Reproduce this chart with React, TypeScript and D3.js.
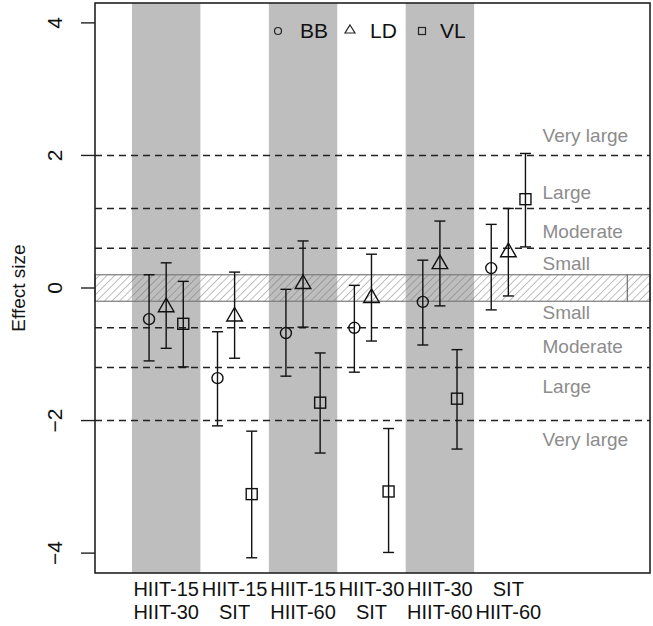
import React, { useEffect, useRef } from "react";
import * as d3 from "d3";

// comparison labels (two lines under each group)
const labelTop = ["HIIT-15", "HIIT-15", "HIIT-15", "HIIT-30", "HIIT-30", "SIT"];
const labelBottom = ["HIIT-30", "SIT", "HIIT-60", "SIT", "HIIT-60", "HIIT-60"];

// effect sizes and 95% limits per outcome
const bbEst = [-0.47, -1.36, -0.68, -0.6, -0.21, 0.3];
const bbLow = [-1.1, -2.08, -1.33, -1.27, -0.86, -0.33];
const bbHigh = [0.2, -0.66, -0.02, 0.04, 0.42, 0.96];

const ldEst = [-0.29, -0.43, 0.06, -0.15, 0.36, 0.54];
const ldLow = [-0.91, -1.06, -0.59, -0.8, -0.27, -0.12];
const ldHigh = [0.38, 0.24, 0.71, 0.51, 1.01, 1.2];

const vlEst = [-0.54, -3.11, -1.73, -3.07, -1.67, 1.34];
const vlLow = [-1.19, -4.07, -2.49, -3.99, -2.43, 0.62];
const vlHigh = [0.1, -2.16, -0.98, -2.12, -0.93, 2.03];

const yTicks = [4, 2, 0, -2, -4];
const thresholds = [2, 1.2, 0.6, -0.6, -1.2, -2];
const trivial = [-0.2, 0.2];
const zoneNames = ["Very large", "Large", "Moderate", "Small", "Small", "Moderate", "Large", "Very large"];
const zoneAt = [2.3, 1.45, 0.85, 0.37, -0.37, -0.88, -1.49, -2.29];

const FONT = "'Liberation Sans', Arial, sans-serif";

const App = () => {
  const svgRef = useRef<SVGSVGElement>(null);

  useEffect(() => {
    const W = 653;
    const H = 626;
    const box = { left: 95, right: 650, top: 3, bottom: 573 };

    const svg = d3.select(svgRef.current).attr("width", W).attr("height", H);
    svg.selectAll("*").remove();

    const x = d3.scaleLinear().domain([-0.04, 8.07]).range([box.left, box.right]);
    const y = d3.scaleLinear().domain([-4.3, 4.3]).range([box.bottom, box.top]);
    const off = 0.25;

    // hatch pattern
    const defs = svg.append("defs");
    const pat = defs
      .append("pattern")
      .attr("id", "hatch")
      .attr("patternUnits", "userSpaceOnUse")
      .attr("width", 5.4)
      .attr("height", 5.4)
      .attr("patternTransform", "rotate(45)");
    pat
      .append("line")
      .attr("x1", 0)
      .attr("y1", 0)
      .attr("x2", 0)
      .attr("y2", 5.4)
      .attr("stroke", "#707070")
      .attr("stroke-width", 0.9);

    // gray bands behind odd groups
    const idx = d3.range(labelTop.length);
    svg
      .append("g")
      .selectAll("rect")
      .data(idx.filter((i) => i % 2 === 0))
      .join("rect")
      .attr("x", (i) => x(i + 0.5))
      .attr("y", box.top)
      .attr("width", (i) => x(i + 1.5) - x(i + 0.5))
      .attr("height", box.bottom - box.top)
      .attr("fill", "#bebebe");

    // dashed thresholds
    svg
      .append("g")
      .selectAll("line")
      .data(thresholds)
      .join("line")
      .attr("x1", box.left)
      .attr("x2", box.right)
      .attr("y1", (d) => y(d))
      .attr("y2", (d) => y(d))
      .attr("stroke", "#222")
      .attr("stroke-width", 1.4)
      .attr("stroke-dasharray", "7,5");

    // trivial zone
    const split = 7.74;
    [
      [x.domain()[0], split],
      [split, x.domain()[1]],
    ].forEach(([a, b]) => {
      svg
        .append("rect")
        .attr("x", x(a))
        .attr("y", y(trivial[1]))
        .attr("width", x(b) - x(a))
        .attr("height", y(trivial[0]) - y(trivial[1]))
        .attr("fill", "url(#hatch)")
        .attr("stroke", "#7a7a7a")
        .attr("stroke-width", 1.2);
    });

    // zone labels
    svg
      .append("g")
      .selectAll("text")
      .data(zoneNames)
      .join("text")
      .attr("x", x(6.5))
      .attr("y", (_, i) => y(zoneAt[i]))
      .attr("dy", "0.35em")
      .attr("font-family", FONT)
      .attr("font-size", 19)
      .attr("fill", "#8c8c8c")
      .text((d) => d);

    const series = [
      { est: bbEst, low: bbLow, high: bbHigh, dx: -off, shape: "circle" },
      { est: ldEst, low: ldLow, high: ldHigh, dx: 0, shape: "triangle" },
      { est: vlEst, low: vlLow, high: vlHigh, dx: off, shape: "square" },
    ];

    const drawShape = (g: any, shape: string, cx: number, cy: number) => {
      if (shape === "circle") {
        g.append("circle").attr("cx", cx).attr("cy", cy).attr("r", 5.5);
      } else if (shape === "square") {
        g.append("rect").attr("x", cx - 5.5).attr("y", cy - 5.5).attr("width", 11).attr("height", 11);
      } else {
        const r = 9;
        const h = r * Math.cos(Math.PI / 6);
        g.append("path").attr(
          "d",
          `M${cx},${cy - r}L${cx + h},${cy + r / 2}L${cx - h},${cy + r / 2}Z`
        );
      }
    };

    const marks = svg
      .append("g")
      .attr("fill", "none")
      .attr("stroke", "#111")
      .attr("stroke-width", 1.4);

    series.forEach((s) => {
      idx.forEach((i) => {
        const cx = x(i + 1 + s.dx);
        const cap = 5.5;
        marks
          .append("line")
          .attr("x1", cx)
          .attr("x2", cx)
          .attr("y1", y(s.low[i]))
          .attr("y2", y(s.high[i]));
        [s.low[i], s.high[i]].forEach((v) => {
          marks
            .append("line")
            .attr("x1", cx - cap)
            .attr("x2", cx + cap)
            .attr("y1", y(v))
            .attr("y2", y(v));
        });
        drawShape(marks, s.shape, cx, y(s.est[i]));
      });
    });

    // legend
    const legend = svg
      .append("g")
      .attr("font-family", FONT)
      .attr("font-size", 21);
    const legendItems = [
      { name: "BB", shape: "circle", sx: 278, tx: 300 },
      { name: "LD", shape: "triangle", sx: 350, tx: 370 },
      { name: "VL", shape: "square", sx: 422, tx: 440 },
    ];
    legendItems.forEach((d) => {
      const g = legend
        .append("g")
        .attr("fill", "none")
        .attr("stroke", "#222")
        .attr("stroke-width", 1.2);
      if (d.shape === "circle") {
        g.append("circle").attr("cx", d.sx).attr("cy", 31).attr("r", 3.5);
      } else if (d.shape === "square") {
        g.append("rect").attr("x", d.sx - 3.5).attr("y", 27.5).attr("width", 7).attr("height", 7);
      } else {
        g.append("path").attr("d", `M${d.sx},${25}L${d.sx + 5},${33}L${d.sx - 5},${33}Z`);
      }
      legend
        .append("text")
        .attr("x", d.tx)
        .attr("y", 31)
        .attr("dy", "0.35em")
        .attr("fill", "#111")
        .text(d.name);
    });

    // box
    svg
      .append("rect")
      .attr("x", box.left)
      .attr("y", box.top)
      .attr("width", box.right - box.left)
      .attr("height", box.bottom - box.top)
      .attr("fill", "none")
      .attr("stroke", "#222")
      .attr("stroke-width", 1.6);

    // y axis
    const yAxis = svg.append("g");
    yAxis
      .selectAll("line")
      .data(yTicks)
      .join("line")
      .attr("x1", box.left - 14)
      .attr("x2", box.left)
      .attr("y1", (d) => y(d))
      .attr("y2", (d) => y(d))
      .attr("stroke", "#222")
      .attr("stroke-width", 1.4);
    yAxis
      .selectAll("text")
      .data(yTicks)
      .join("text")
      .attr("transform", (d) => `translate(55,${y(d)}) rotate(-90)`)
      .attr("text-anchor", "middle")
      .attr("dy", "0.35em")
      .attr("font-family", FONT)
      .attr("font-size", 21)
      .attr("fill", "#111")
      .text((d) => d3.format("d")(d));

    svg
      .append("text")
      .attr("transform", `translate(18,${y(0)}) rotate(-90)`)
      .attr("text-anchor", "middle")
      .attr("dy", "0.35em")
      .attr("font-family", FONT)
      .attr("font-size", 19)
      .attr("fill", "#111")
      .text("Effect size");

    // x labels
    const xl = svg
      .append("g")
      .attr("font-family", FONT)
      .attr("font-size", 20)
      .attr("fill", "#111")
      .attr("text-anchor", "middle");
    idx.forEach((i) => {
      xl.append("text").attr("x", x(i + 1)).attr("y", 596).text(labelTop[i]);
      xl.append("text").attr("x", x(i + 1)).attr("y", 619).text(labelBottom[i]);
    });
  }, []);

  return <svg ref={svgRef} style={{ position: "absolute", left: 0, top: 0 }}></svg>;
};

export default App;
